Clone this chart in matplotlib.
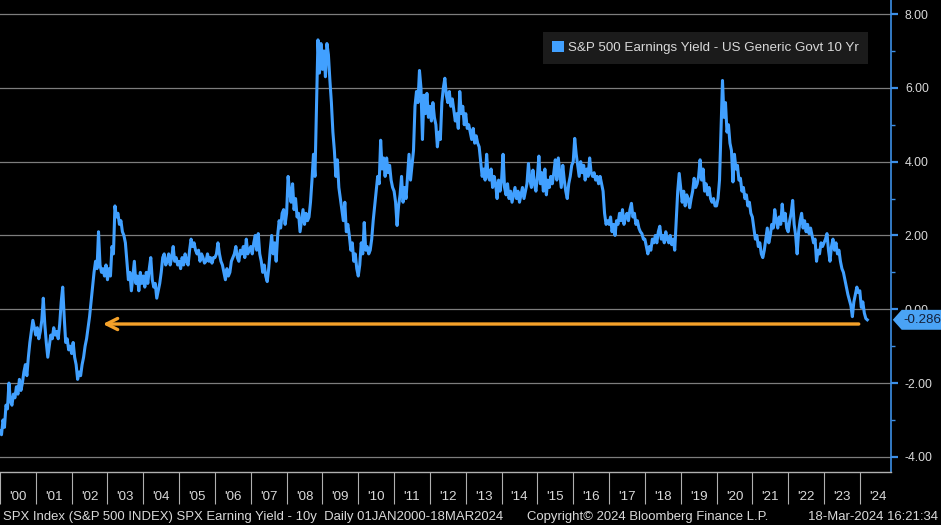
import numpy as np
import matplotlib.pyplot as plt
from matplotlib import font_manager
from matplotlib.patches import Patch, Polygon
import matplotlib.transforms as mtransforms

# S&P 500 earnings yield minus US 10y yield, 24 readings per year
y2000 = [-3.3, -3.4, -3.0, -3.2, -2.6, -2.7, -2.0, -2.5, -2.6, -2.3, -2.4, -2.1,
         -2.3, -1.9, -2.2, -2.0, -1.7, -1.5, -1.8, -1.3, -0.9, -0.6, -0.3, -0.5]
y2001 = [-0.7, -0.5, -0.8, -0.6, -0.3, 0.3, -0.4, -0.9, -1.3, -1.0, -0.7, -0.8,
         -0.5, -0.7, -0.6, -0.8, -0.4, 0.2, 0.6, -0.2, -0.9, -0.8, -1.1, -1.0]
y2002 = [-1.2, -0.9, -1.3, -1.5, -1.9, -1.7, -1.8, -1.5, -1.3, -1.0, -0.8, -0.5,
         -0.2, 0.2, 0.6, 1.0, 1.3, 1.1, 2.1, 1.2, 1.0, 1.1, 0.9, 1.2]
y2003 = [0.8, 1.1, 0.9, 1.7, 1.5, 2.8, 2.5, 2.6, 2.3, 2.4, 2.1, 2.0,
         1.8, 1.3, 0.8, 1.0, 0.5, 0.9, 1.3, 0.7, 0.9, 0.5, 1.0, 0.7]
y2004 = [0.9, 0.6, 1.0, 0.7, 1.1, 1.4, 0.8, 0.6, 0.7, 0.3, 0.5, 0.7,
         1.0, 1.4, 1.5, 1.2, 1.3, 1.5, 1.2, 1.4, 1.7, 1.3, 1.4, 1.2]
y2005 = [1.3, 1.1, 1.4, 1.2, 1.5, 1.3, 1.2, 1.6, 1.9, 1.7, 1.8, 1.6,
         1.5, 1.6, 1.3, 1.5, 1.4, 1.25, 1.3, 1.5, 1.3, 1.4, 1.25, 1.4]
y2006 = [1.4, 1.5, 1.8, 1.5, 1.3, 1.2, 1.0, 0.8, 1.1, 0.9, 1.0, 1.3,
         1.4, 1.5, 1.7, 1.4, 1.3, 1.6, 1.5, 1.7, 1.4, 1.9, 1.5, 1.6]
y2007 = [1.7, 1.5, 1.8, 2.0, 1.6, 2.05, 1.5, 1.3, 1.0, 1.2, 0.9, 0.75,
         1.1, 1.6, 2.0, 1.5, 1.8, 1.3, 2.0, 2.4, 2.2, 2.6, 2.7, 2.3]
y2008 = [2.6, 3.6, 3.2, 2.9, 3.4, 2.7, 3.0, 2.5, 2.6, 2.1, 2.4, 2.7,
         2.3, 2.6, 2.4, 2.5, 2.9, 3.5, 4.2, 3.6, 5.5, 7.3, 6.4, 7.2]
y2009 = [6.5, 7.0, 6.3, 7.2, 6.9, 6.2, 5.6, 4.8, 4.3, 3.6, 4.05, 3.3,
         3.0, 2.7, 2.4, 2.9, 2.1, 2.3, 2.0, 1.6, 1.8, 1.3, 1.5, 1.1]
y2010 = [0.9, 1.2, 1.8, 1.5, 2.35, 1.6, 1.7, 1.5, 1.6, 1.9, 2.4, 2.8,
         3.2, 3.6, 3.4, 4.58, 3.8, 4.1, 3.6, 4.1, 3.7, 3.9, 3.5, 3.3]
y2011 = [3.2, 2.9, 2.27, 2.8, 3.1, 3.6, 2.9, 3.3, 3.0, 3.6, 4.2, 3.5,
         3.9, 4.3, 5.5, 5.9, 5.6, 6.47, 6.0, 4.6, 5.8, 5.3, 5.85, 5.2]
y2012 = [5.5, 5.1, 5.6, 5.2, 5.0, 4.4, 4.8, 4.6, 5.6, 6.0, 6.26, 5.8,
         5.6, 5.9, 5.5, 5.7, 5.4, 5.1, 5.3, 4.9, 5.9, 5.3, 5.5, 5.0]
y2013 = [5.3, 4.9, 5.0, 4.8, 4.6, 4.9, 4.5, 4.7, 4.5, 4.4, 4.0, 3.6,
         3.8, 3.5, 4.2, 3.6, 3.5, 3.8, 3.3, 3.6, 3.4, 3.0, 3.5, 3.2]
y2014 = [3.5, 4.2, 3.3, 3.1, 3.4, 3.0, 3.2, 2.9, 3.1, 3.3, 3.0, 3.2,
         2.9, 3.1, 3.3, 3.0, 3.2, 3.4, 3.95, 3.5, 3.3, 3.77, 3.4, 3.2]
y2015 = [3.6, 4.15, 3.4, 3.7, 3.2, 3.8, 3.1, 3.5, 3.3, 3.6, 3.4, 3.7,
         4.05, 3.5, 4.1, 3.7, 3.3, 3.9, 3.5, 3.2, 3.0, 3.4, 3.6, 3.9]
y2016 = [4.0, 4.63, 4.2, 3.9, 3.6, 4.0, 3.7, 3.9, 3.5, 3.8, 3.6, 4.1,
         3.7, 3.6, 3.7, 3.5, 3.6, 3.4, 3.6, 3.4, 3.2, 2.6, 2.3, 2.4]
y2017 = [2.3, 2.5, 2.1, 2.3, 2.0, 2.4, 2.3, 2.6, 2.4, 2.7, 2.3, 2.5,
         2.6, 2.4, 2.7, 2.87, 2.5, 2.6, 2.3, 2.4, 2.2, 2.1, 2.05, 1.9]
y2018 = [1.9, 1.7, 1.5, 1.7, 1.6, 1.9, 1.8, 2.0, 1.8, 2.1, 2.25, 1.9,
         2.0, 1.8, 2.1, 1.9, 1.8, 2.0, 1.75, 1.9, 1.6, 2.4, 3.2, 3.68]
y2019 = [3.3, 2.9, 3.2, 2.8, 3.1, 3.0, 2.75, 3.0, 3.2, 3.55, 3.3, 3.4,
         3.6, 4.05, 3.5, 3.8, 3.2, 3.4, 3.1, 3.3, 3.0, 2.9, 3.0, 2.8]
y2020 = [2.8, 3.0, 3.5, 4.9, 6.2, 5.2, 5.6, 4.8, 5.0, 4.5, 4.3, 3.45,
         4.2, 3.8, 3.9, 3.5, 3.55, 3.2, 3.3, 3.0, 3.1, 2.8, 2.9, 2.6]
y2021 = [2.5, 2.2, 1.9, 2.0, 1.7, 1.8, 1.5, 1.4, 1.6, 1.9, 2.2, 1.8,
         2.0, 2.3, 2.2, 2.7, 2.4, 2.2, 2.5, 2.3, 2.85, 2.4, 2.6, 2.2]
y2022 = [2.1, 2.4, 2.6, 2.95, 2.3, 2.0, 1.5, 2.1, 2.4, 2.6, 2.2, 2.4,
         2.1, 2.3, 2.05, 2.2, 2.0, 1.8, 1.9, 1.3, 1.6, 1.5, 1.8, 1.7]
y2023 = [1.8, 1.9, 2.05, 1.6, 1.3, 1.7, 1.9, 1.6, 1.8, 1.5, 1.6, 1.3,
         1.1, 1.0, 0.8, 0.6, 0.4, 0.25, 0.1, -0.2, 0.2, 0.4, 0.6, 0.45]
y2024 = [0.5, 0.05, 0.2, -0.1, -0.25, -0.286]

spread = np.array(y2000 + y2001 + y2002 + y2003 + y2004 + y2005 + y2006 + y2007
                  + y2008 + y2009 + y2010 + y2011 + y2012 + y2013 + y2014 + y2015
                  + y2016 + y2017 + y2018 + y2019 + y2020 + y2021 + y2022 + y2023
                  + y2024)
t = 2000 + np.arange(len(spread)) / 24.0

years = list(range(2000, 2025))
year_labels = ["'%02d" % (y % 100) for y in years]
yticks = [-4, -2, 0, 2, 4, 6, 8]
last_value = -0.286

# orange arrow drawn on the chart (decimal years, level in %)
arrow_tail = 2023.97
arrow_tip = 2002.87
arrow_level = -0.40

legend_text = 'S&P 500 Earnings Yield - US Generic Govt 10 Yr'
footer_left = 'SPX Index (S&P 500 INDEX) SPX Earning Yield - 10y  Daily 01JAN2000-18MAR2024'
footer_mid = 'Copyright\u00a9 2024 Bloomberg Finance L.P.'
footer_right = '18-Mar-2024 16:21:34'

# narrow font if we have it, otherwise shrink
names = {f.name for f in font_manager.fontManager.ttflist}
if 'Liberation Sans Narrow' in names:
    fam = ['Liberation Sans Narrow', 'DejaVu Sans']
    sc = 1.0
else:
    fam = ['Liberation Sans', 'DejaVu Sans']
    sc = 0.84
plt.rcParams['font.family'] = fam

blue = '#41a0ff'
txt = '#d9d9d9'

fig = plt.figure(figsize=(9.41, 5.25), dpi=100, facecolor='black')
ax = fig.add_axes([0, 1 - 472 / 525, 891 / 941, 472 / 525])
ax.set_facecolor('black')

ax.plot(t, spread, color=blue, lw=2.2, solid_joinstyle='round', zorder=3)

ax.set_xlim(2000, 2024.87)
ax.set_ylim(-4.41, 8.38)

# right y axis
ax.yaxis.tick_right()
ax.set_yticks(yticks)
ax.set_yticklabels(['%.2f' % v for v in yticks])
ax.set_yticks([-3, -1, 1, 3, 5, 7], minor=True)
ax.tick_params(axis='y', which='major', color='#3d8fe6', labelcolor=txt,
               length=5, width=1.6, pad=5, labelsize=10.5 * sc)
ax.tick_params(axis='y', which='minor', color='#3d8fe6', length=3, width=1)
ax.yaxis.grid(True, color='#7d7d7d', lw=0.9)
ax.set_axisbelow(True)

# x axis: separators at year starts, labels mid-year
ax.set_xticks(years)
ax.set_xticklabels([''] * len(years))
ax.set_xticks([y + 0.5 for y in years], minor=True)
ax.set_xticklabels(year_labels, minor=True)
ax.tick_params(axis='x', which='major', color='#b0b0b0', length=23, width=0.8)
ax.tick_params(axis='x', which='minor', length=0, pad=14, labelcolor=txt,
               labelsize=11.5 * sc)

for s in ['left', 'top']:
    ax.spines[s].set_visible(False)
ax.spines['right'].set_color('#3d8fe6')
ax.spines['right'].set_linewidth(1.2)
ax.spines['bottom'].set_color('#b0b0b0')
ax.spines['bottom'].set_linewidth(1.0)

# legend
leg = ax.legend(handles=[Patch(facecolor=blue, edgecolor='none', label=legend_text)],
                loc='upper right', bbox_to_anchor=(0.974, 0.932), borderaxespad=0,
                frameon=True, fancybox=False, fontsize=11.5 * sc,
                handlelength=0.85, handleheight=0.85, handletextpad=0.3,
                borderpad=0.7)
leg.get_frame().set_facecolor('#1b1b1b')
leg.get_frame().set_edgecolor('none')
leg.get_frame().set_alpha(1)
for tx in leg.get_texts():
    tx.set_color(txt)

# orange arrow
ax.annotate('', xy=(arrow_tip, arrow_level), xytext=(arrow_tail, arrow_level),
            arrowprops=dict(arrowstyle='->,head_length=0.8,head_width=0.4',
                            color='#f5a22a', lw=2.4, shrinkA=0, shrinkB=0),
            zorder=4)

# last value tag on the right axis
tr = mtransforms.blended_transform_factory(ax.transAxes, ax.transData)
h = 0.27
tag = Polygon([(1.002, last_value), (1.012, last_value + h), (1.06, last_value + h),
               (1.06, last_value - h), (1.012, last_value - h)],
              closed=True, facecolor='#4aa3f5', edgecolor='none',
              transform=tr, clip_on=False, zorder=6)
ax.add_patch(tag)
ax.text(1.035, last_value, '%.3f' % last_value, transform=tr, ha='center',
        va='center', color='#14203a', fontsize=11.5 * sc, zorder=7, clip_on=False)

# footer
fy = 1 - 517 / 525
fig.text(3 / 941, fy, footer_left, color=txt, fontsize=11.2 * sc, va='center', ha='left')
fig.text(527 / 941, fy, footer_mid, color=txt, fontsize=11.2 * sc, va='center', ha='left')
fig.text(938 / 941, fy, footer_right, color=txt, fontsize=11.2 * sc, va='center', ha='right')

fig.savefig('out.png', dpi=100, facecolor='black')
